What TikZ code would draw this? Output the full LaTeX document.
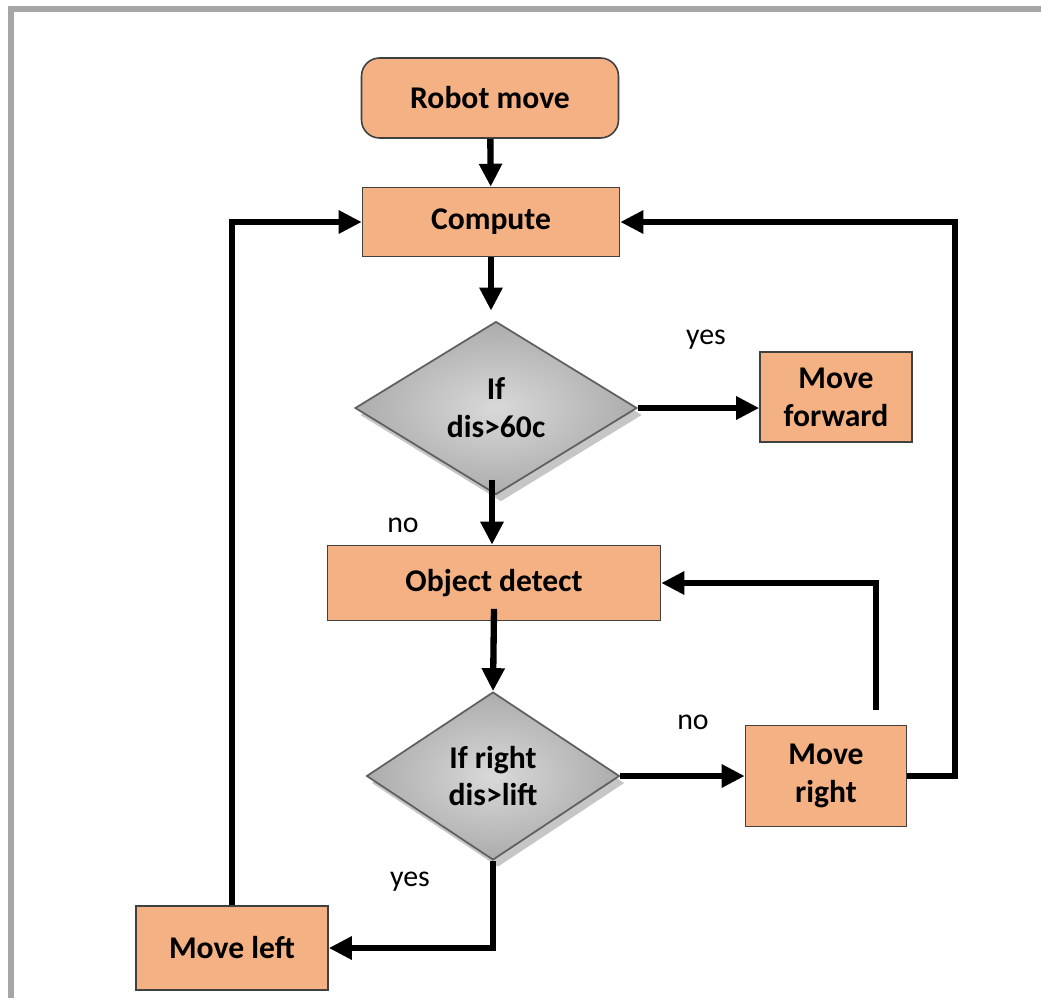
\documentclass[tikz,border=0pt]{standalone}
\usepackage{fontspec}
\setmainfont{Carlito}
\usetikzlibrary{shapes.geometric, arrows.meta, shadows}

\definecolor{boxorange}{HTML}{F4B183}
\definecolor{boxline}{HTML}{404040}
\definecolor{framegray}{HTML}{A6A6A6}

\tikzset{
  stepbox/.style={draw=boxline, line width=0.9pt, fill=boxorange, align=center,
    font=\fontsize{18}{21.5}\selectfont\bfseries, inner sep=2pt},
  startbox/.style={stepbox, rounded corners=0.36cm},
  decision/.style={diamond, draw=gray!75!black, line width=1pt, inner sep=0pt,
    shading=radial, inner color=gray!30, outer color=gray!65, align=center,
    font=\fontsize{18}{21.5}\selectfont\bfseries,
    drop shadow={shadow xshift=0.1cm, shadow yshift=-0.14cm, fill=gray!45, opacity=1}},
  flow/.style={line width=3.6pt, -{Triangle[length=0.46cm, width=0.44cm]}},
  lbl/.style={font=\fontsize{17}{20}\selectfont, inner sep=1pt}
}

\begin{document}
\begin{tikzpicture}[x=0.02cm, y=-0.02cm]
  \useasboundingbox (0,0) rectangle (1041,998);
  % frame
  \draw[framegray, line width=0.12cm] (1041,9) -- (11,9) -- (11,998);

  % boxes
  \node[startbox, minimum width=5.14cm, minimum height=1.6cm] (robot) at (490,98) {Robot move};
  \node[stepbox, minimum width=5.14cm, minimum height=1.38cm] (compute) at (491,222) {Compute};
  \node[decision, minimum width=5.64cm, minimum height=3.46cm] (dis) at (496,408) {If\\dis>60c};
  \node[stepbox, minimum width=3.04cm, minimum height=1.8cm] (forward) at (836,397) {Move\\forward};
  \node[stepbox, minimum width=6.66cm, minimum height=1.5cm] (detect) at (494,583) {Object detect};
  \node[decision, minimum width=5.06cm, minimum height=3.36cm] (side) at (493,776) {If right\\dis>lift};
  \node[stepbox, minimum width=3.22cm, minimum height=2.02cm] (right) at (826,776) {Move\\right};
  \node[stepbox, minimum width=3.84cm, minimum height=1.68cm] (left) at (232,948) {Move left};

  % labels
  \node[lbl] (yes1) at (706,340) {yes};
  \node[lbl] (no1) at (403,525) {no};
  \node[lbl] (no2) at (693,722) {no};
  \node[lbl] (yes2) at (410,882) {yes};

  % connectors
  \draw[flow] (robot) -- (compute);
  \draw[flow, shorten >=0.2cm] (compute.south) -- (compute.south |- dis.north);
  \draw[flow] (dis.east) -- (dis.east -| forward.west);
  \draw[flow] ([xshift=-0.08cm, yshift=0.3cm]dis.south) -- ([xshift=-0.08cm]dis.south |- detect.north);
  \draw[flow] ([yshift=0.25cm]detect.south) -- (side.north);
  \draw[flow] (side.east) -- (right.west);
  \draw[flow] (right.east) -- ++(48,0) |- (compute.east);
  \draw[flow] ([xshift=1cm, yshift=0.3cm]right.north) |- (detect.east);
  \draw[flow] (side.south) |- (left.east);
  \draw[flow] (left.north) |- (compute.west);
\end{tikzpicture}
\end{document}
